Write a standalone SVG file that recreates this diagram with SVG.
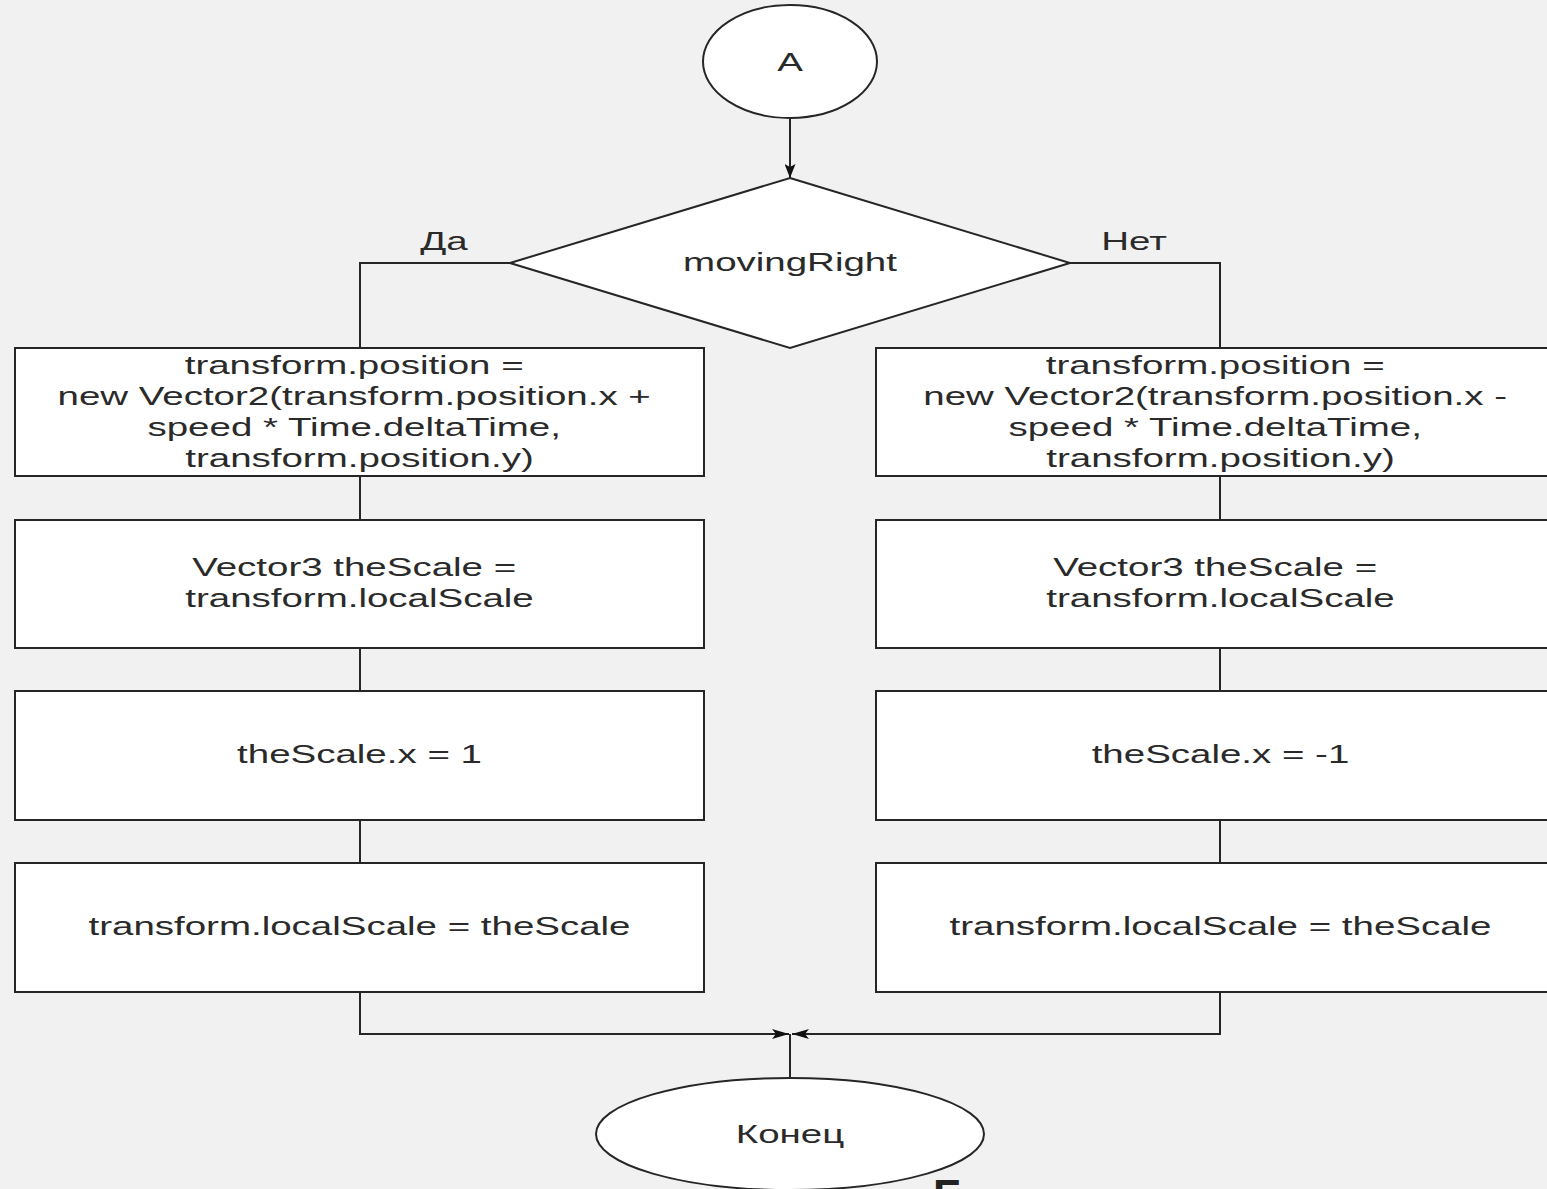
<svg xmlns="http://www.w3.org/2000/svg" width="1547" height="1189" viewBox="0 0 1547 1189">
  <style>
    .shape { fill: #ffffff; stroke: #262626; stroke-width: 2; }
    .edge { fill: none; stroke: #262626; stroke-width: 2; }
    .lbl { font-family: "Liberation Sans", Arial, sans-serif; font-size: 26px; fill: #2a2a2a; text-anchor: middle; }
  </style>
  <defs>
    <marker id="arrowH" viewBox="0 0 17 10" markerWidth="17" markerHeight="10" refX="17" refY="5" orient="auto" markerUnits="userSpaceOnUse">
      <path d="M0,0 L17,5 L0,10 L4,5 Z" fill="#111"/>
    </marker>
    <marker id="arrowV" viewBox="0 0 14 11" markerWidth="14" markerHeight="11" refX="14" refY="5.5" orient="auto" markerUnits="userSpaceOnUse">
      <path d="M0,0 L14,5.5 L0,11 L3,5.5 Z" fill="#111"/>
    </marker>
  </defs>

  <rect x="0" y="0" width="1547" height="1189" fill="#f1f1f1"/>

  <!-- connectors -->
  <g id="connectors">
    <line class="edge" x1="790" y1="118" x2="790" y2="178" marker-end="url(#arrowV)"/>
    <polyline class="edge" points="510,263 360,263 360,348"/>
    <polyline class="edge" points="1070,263 1220,263 1220,348"/>
    <line class="edge" x1="360" y1="476" x2="360" y2="520"/>
    <line class="edge" x1="360" y1="648" x2="360" y2="691"/>
    <line class="edge" x1="360" y1="820" x2="360" y2="863"/>
    <line class="edge" x1="1220" y1="476" x2="1220" y2="520"/>
    <line class="edge" x1="1220" y1="648" x2="1220" y2="691"/>
    <line class="edge" x1="1220" y1="820" x2="1220" y2="863"/>
    <polyline class="edge" points="360,992 360,1034 789,1034" marker-end="url(#arrowH)"/>
    <polyline class="edge" points="1220,992 1220,1034 792,1034" marker-end="url(#arrowH)"/>
    <line class="edge" x1="790" y1="1034" x2="790" y2="1078"/>
    <text class="lbl" transform="translate(444,250) scale(1.48,1)">Да</text>
    <text class="lbl" transform="translate(1134,250) scale(1.48,1)">Нет</text>
  </g>

  <!-- connector A -->
  <g id="start">
    <ellipse class="shape" cx="790" cy="61.5" rx="87" ry="56.5"/>
    <text class="lbl" transform="translate(790,71) scale(1.48,1)">A</text>
  </g>

  <!-- decision -->
  <g id="decision">
    <polygon class="shape" points="790,178 1070,263 790,348 510,263"/>
    <text class="lbl" transform="translate(790,271) scale(1.48,1)">movingRight</text>
  </g>

  <!-- left branch -->
  <g id="left-move">
    <rect class="shape" x="15" y="348" width="689" height="128"/>
    <text class="lbl" transform="translate(359.5,374) scale(1.48,1)">
      <tspan x="0" y="0">transform.position =</tspan>
      <tspan x="0" y="31">new Vector2(transform.position.x +</tspan>
      <tspan x="0" y="62">speed * Time.deltaTime,</tspan>
      <tspan x="0" y="93">transform.position.y)</tspan>
    </text>
  </g>
  <g id="left-scale">
    <rect class="shape" x="15" y="520" width="689" height="128"/>
    <text class="lbl" transform="translate(359.5,576) scale(1.48,1)">
      <tspan x="0" y="0">Vector3 theScale =</tspan>
      <tspan x="0" y="31">transform.localScale</tspan>
    </text>
  </g>
  <g id="left-flip">
    <rect class="shape" x="15" y="691" width="689" height="129"/>
    <text class="lbl" transform="translate(359.5,763) scale(1.48,1)">theScale.x = 1</text>
  </g>
  <g id="left-apply">
    <rect class="shape" x="15" y="863" width="689" height="129"/>
    <text class="lbl" transform="translate(359.5,935) scale(1.48,1)">transform.localScale = theScale</text>
  </g>

  <!-- right branch -->
  <g id="right-move">
    <rect class="shape" x="876" y="348" width="689" height="128"/>
    <text class="lbl" transform="translate(1220.5,374) scale(1.48,1)">
      <tspan x="0" y="0">transform.position =</tspan>
      <tspan x="0" y="31">new Vector2(transform.position.x -</tspan>
      <tspan x="0" y="62">speed * Time.deltaTime,</tspan>
      <tspan x="0" y="93">transform.position.y)</tspan>
    </text>
  </g>
  <g id="right-scale">
    <rect class="shape" x="876" y="520" width="689" height="128"/>
    <text class="lbl" transform="translate(1220.5,576) scale(1.48,1)">
      <tspan x="0" y="0">Vector3 theScale =</tspan>
      <tspan x="0" y="31">transform.localScale</tspan>
    </text>
  </g>
  <g id="right-flip">
    <rect class="shape" x="876" y="691" width="689" height="129"/>
    <text class="lbl" transform="translate(1220.5,763) scale(1.48,1)">theScale.x = -1</text>
  </g>
  <g id="right-apply">
    <rect class="shape" x="876" y="863" width="689" height="129"/>
    <text class="lbl" transform="translate(1220.5,935) scale(1.48,1)">transform.localScale = theScale</text>
  </g>

  <!-- terminator -->
  <g id="end">
    <ellipse class="shape" cx="790" cy="1134" rx="194" ry="56"/>
    <text class="lbl" transform="translate(790,1143) scale(1.48,1)">Конец</text>
  </g>

  <!-- first letter of the next page heading, running past the bottom edge -->
  <text x="933" y="1211" font-family="Liberation Sans, Arial, sans-serif" font-size="44" font-weight="bold" fill="#222">Б</text>
</svg>
